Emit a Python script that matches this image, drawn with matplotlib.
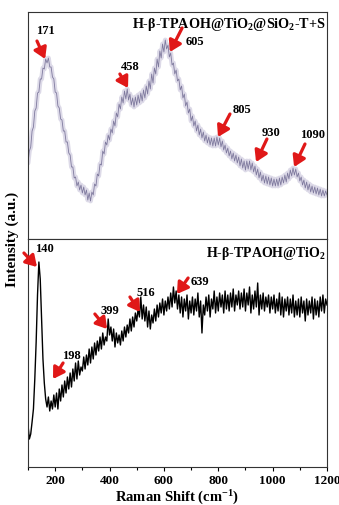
import numpy as np
import matplotlib
matplotlib.use("Agg")
import matplotlib.pyplot as plt

# === DATA (arbitrary intensity units) ===
shift = list(range(100, 1201, 5))  # Raman shift, cm-1

# H-beta-TPAOH@TiO2@SiO2-T+S (top panel)
inten_tis = [76, 88, 92, 108, 112, 128, 131, 146, 147, 160,
             160, 171, 170, 180, 176, 181, 172, 172, 162, 160,
             147, 146, 133, 131, 120, 119, 108, 108, 97, 97,
             86, 84, 72, 72, 61, 62, 53, 57, 49, 54,
             46, 52, 44, 49, 39, 46, 38, 47, 44, 55,
             53, 65, 63, 75, 74, 88, 85, 97, 94, 104,
             99, 110, 106, 118, 113, 126, 122, 135, 130, 142,
             136, 148, 140, 150, 139, 145, 134, 141, 132, 142,
             134, 144, 136, 146, 138, 149, 141, 153, 145, 158,
             150, 165, 156, 171, 165, 180, 172, 188, 181, 195,
             187, 199, 190, 194, 182, 186, 174, 176, 165, 169,
             158, 160, 149, 153, 141, 145, 133, 137, 126, 130,
             118, 123, 113, 118, 108, 114, 104, 110, 101, 107,
             98, 104, 96, 102, 94, 101, 93, 101, 93, 102,
             94, 101, 92, 98, 89, 94, 86, 91, 83, 88,
             80, 86, 78, 84, 76, 82, 73, 80, 71, 78,
             69, 78, 70, 78, 69, 76, 67, 73, 64, 70,
             61, 67, 58, 64, 56, 63, 55, 62, 54, 61,
             53, 60, 53, 60, 53, 61, 54, 62, 56, 64,
             57, 66, 60, 69, 63, 71, 64, 70, 62, 66,
             58, 62, 54, 59, 51, 57, 49, 55, 47, 53,
             46, 52, 45, 51, 44, 50, 43, 49, 43, 48,
             44]

# H-beta-TPAOH@TiO2 (bottom panel)
inten_ti = [42, 28, 33, 45, 58, 88, 125, 172, 205, 188,
            148, 108, 84, 68, 60, 70, 56, 66, 58, 72,
            60, 74, 58, 78, 66, 82, 70, 86, 74, 90,
            78, 94, 80, 98, 86, 104, 88, 106, 92, 100,
            96, 110, 98, 112, 102, 118, 104, 120, 108, 124,
            112, 126, 116, 130, 118, 134, 122, 130, 126, 148,
            132, 140, 126, 138, 120, 134, 124, 132, 122, 136,
            126, 140, 130, 142, 134, 148, 136, 150, 140, 154,
            146, 158, 150, 170, 148, 162, 146, 160, 140, 156,
            138, 152, 144, 158, 146, 162, 150, 164, 154, 168,
            152, 166, 156, 170, 158, 174, 160, 180, 164, 176,
            158, 172, 154, 170, 150, 168, 156, 172, 148, 166,
            154, 170, 152, 168, 156, 174, 150, 166, 134, 162,
            152, 170, 156, 172, 150, 168, 158, 176, 154, 170,
            156, 174, 160, 172, 154, 176, 158, 172, 156, 174,
            160, 178, 156, 172, 162, 176, 158, 174, 160, 178,
            156, 174, 162, 180, 154, 172, 158, 176, 160, 184,
            152, 172, 158, 174, 156, 170, 160, 172, 154, 170,
            158, 172, 154, 168, 156, 174, 152, 170, 150, 168,
            156, 170, 152, 168, 154, 172, 150, 166, 152, 168,
            150, 170, 154, 166, 146, 168, 152, 166, 154, 170,
            148, 168, 152, 166, 150, 170, 156, 172, 154, 168,
            162]

# peak labels: (label, head x, head y, tail x, tail y, text x, text y)
peaks_tis = [("171", 163, 180, 133, 198, 163, 209),
             ("458", 468, 151, 438, 165, 475, 173),
             ("605", 622, 187, 667, 211, 714, 198),
             ("805", 799, 102, 843, 125, 887, 130),
             ("930", 939, 77, 979, 100, 994, 107),
             ("1090", 1079, 72, 1119, 95, 1148, 105)]
peaks_ti = [("140", 133, 200, 85, 214, 159, 219),
            ("198", 192, 88, 229, 104, 258, 112),
            ("399", 391, 138, 346, 153, 402, 157),
            ("516", 512, 155, 475, 170, 534, 175),
            ("639", 648, 173, 689, 189, 733, 186)]

# === STYLE ===
plt.rcParams["font.family"] = "Liberation Serif"
plt.rcParams["font.weight"] = "bold"
plt.rcParams["mathtext.fontset"] = "custom"
plt.rcParams["mathtext.rm"] = "Liberation Serif:bold"
plt.rcParams["mathtext.bf"] = "Liberation Serif:bold"
plt.rcParams["mathtext.default"] = "bf"

red = "#e01818"

fig = plt.figure(figsize=(3.39, 5.06), dpi=100)
ax1 = fig.add_axes([0.0826, 0.5257, 0.882, 0.4486])
ax2 = fig.add_axes([0.0826, 0.0751, 0.882, 0.4506])


def add_peaks(ax, peaks):
    for lab, hx, hy, tx, ty, lx, ly in peaks:
        ax.annotate("", xy=(hx, hy), xytext=(tx, ty),
                    arrowprops=dict(arrowstyle="-|>,head_width=0.4,head_length=0.65",
                                    color=red, lw=2.3, shrinkA=0, shrinkB=0),
                    annotation_clip=False)
        ax.text(lx, ly, lab, fontsize=9, fontweight="bold",
                ha="center", va="center")


# top panel: soft halo + thin core to get the fuzzy look
ax1.plot(shift, inten_tis, color="#b4afcc", lw=3.5, alpha=0.45, solid_capstyle="round")
ax1.plot(shift, inten_tis, color="#7f7a9e", lw=0.6)
ax1.set_xlim(100, 1200)
ax1.set_ylim(0, 227)
ax1.set_xticks([])
ax1.set_yticks([])
ax1.text(0.995, 0.95, r"H-β-TPAOH@TiO$_2$@SiO$_2$-T+S", transform=ax1.transAxes,
         ha="right", va="center", fontsize=10.2, fontweight="bold")
add_peaks(ax1, peaks_tis)

# bottom panel
ax2.plot(shift, inten_ti, color="black", lw=1.0)
ax2.set_xlim(100, 1200)
ax2.set_ylim(0, 228)
ax2.set_yticks([])
ax2.set_xticks([200, 400, 600, 800, 1000, 1200])
ax2.set_xticks(range(100, 1201, 100), minor=True)
ax2.tick_params(axis="x", which="major", length=3, width=0.8, labelsize=9.5, pad=2)
ax2.tick_params(axis="x", which="minor", length=1.8, width=0.8)
ax2.set_xlabel(r"Raman Shift (cm$^{-1}$)", fontsize=10.5, fontweight="bold", labelpad=1)
ax2.text(0.995, 0.94, r"H-β-TPAOH@TiO$_2$", transform=ax2.transAxes,
         ha="right", va="center", fontsize=10, fontweight="bold")
add_peaks(ax2, peaks_ti)

for ax in (ax1, ax2):
    for s in ax.spines.values():
        s.set_linewidth(0.8)
        s.set_color("#333333")

fig.text(0.035, 0.527, "Intensity (a.u.)", rotation=90, ha="center", va="center",
         fontsize=11, fontweight="bold")

plt.savefig("out.png", dpi=100)
